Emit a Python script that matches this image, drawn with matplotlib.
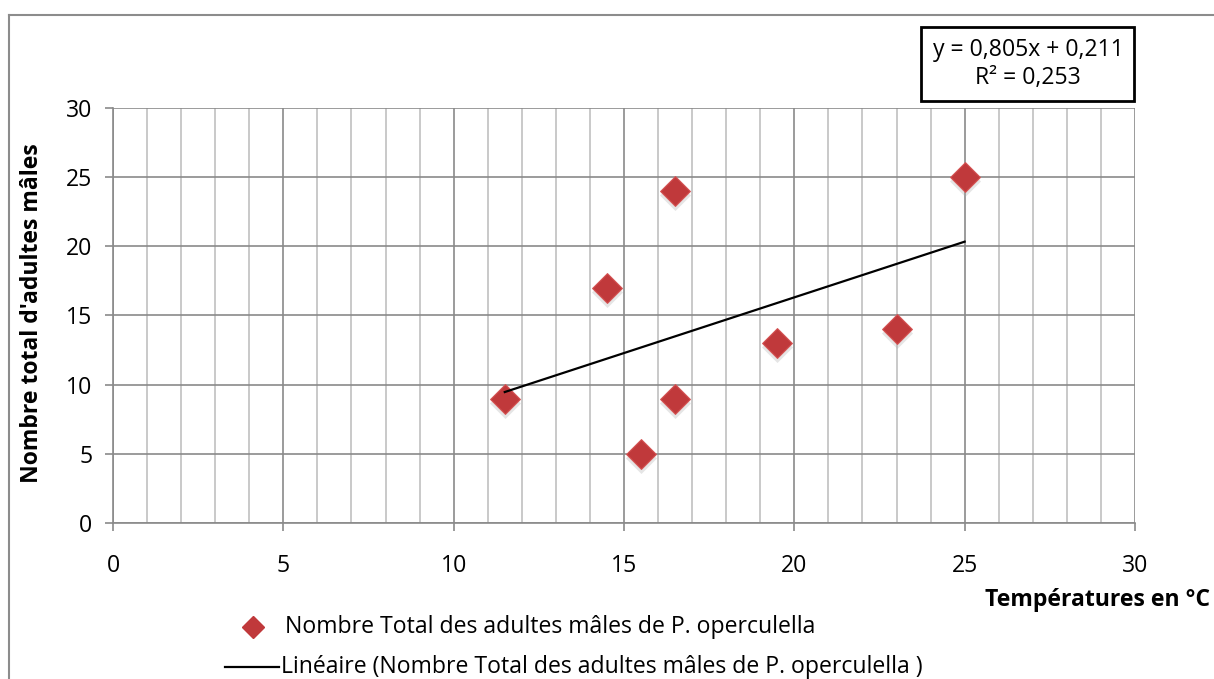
import matplotlib.pyplot as plt
import numpy as np
from matplotlib.lines import Line2D
from matplotlib.patches import Rectangle

plt.rcParams["font.family"] = ["Open Sans", "DejaVu Sans"]

# data
temperatures = [11.5, 14.5, 15.5, 16.5, 16.5, 19.5, 23, 25]
males = [9, 17, 5, 24, 9, 13, 14, 25]
slope = 0.805
intercept = 0.211
r2 = 0.253

series_name = "Nombre Total des adultes mâles de P. operculella"
trend_name = "Linéaire (Nombre Total des adultes mâles de P. operculella )"

FS = 16.6


def fr(v):
    # french decimal comma
    return f"{v:.3f}".replace(".", ",")


fig = plt.figure(figsize=(12.14, 6.79), dpi=100)
ax = fig.add_axes([0.0931, 0.2297, 0.8418, 0.6113])

# outer chart frame (cut at right/bottom like the original)
fig.add_artist(Line2D([9 / 1214, 9 / 1214], [0, 1 - 15 / 679], color="#8c8c8c", lw=1.5))
fig.add_artist(Line2D([9 / 1214, 1], [1 - 15 / 679, 1 - 15 / 679], color="#8c8c8c", lw=1.5))

ax.set_xlim(0, 30)
ax.set_ylim(0, 30)
ax.set_xticks(np.arange(0, 31, 5))
ax.set_yticks(np.arange(0, 31, 5))
ax.set_xticks(np.arange(0, 31, 1), minor=True)
ax.grid(True, which="major", color="#8a8a8a", lw=1.2)
ax.grid(True, which="minor", axis="x", color="#c0c0c0", lw=1.2)
ax.tick_params(which="minor", length=0)
ax.tick_params(which="major", length=6, color="#8a8a8a", width=1.2,
               labelsize=FS, pad=16)
ax.tick_params(axis="y", pad=9)
for s in ["top", "right"]:
    ax.spines[s].set_visible(False)
for s in ["left", "bottom"]:
    ax.spines[s].set_color("#8a8a8a")
    ax.spines[s].set_linewidth(1.2)
ax.set_axisbelow(True)

# points with a soft shadow
ax.scatter(temperatures, np.array(males) - 0.3, marker="D", s=250,
           color="#aaaaaa", alpha=0.3, lw=0, zorder=3)
ax.scatter(temperatures, males, marker="D", s=230, color="#c0393b",
           edgecolor="#d55454", lw=0.8, zorder=4)

# linear trend
xt = np.array([min(temperatures), max(temperatures)])
ax.plot(xt, slope * xt + intercept, color="black", lw=1.6, zorder=5)

# equation box
fig.text(1028 / 1214, 1 - 64 / 679,
         f"y = {fr(slope)}x + {fr(intercept)}\nR² = {fr(r2)}",
         ha="center", va="center", fontsize=FS, linespacing=1.2)
fig.add_artist(Rectangle((921 / 1214, 1 - 101 / 679), 213 / 1214, 74 / 679,
                         fill=False, ec="black", lw=2, transform=fig.transFigure))

fig.text(32 / 1214, 1 - 313 / 679, "Nombre total d'adultes mâles", rotation=90,
         ha="center", va="center", fontsize=FS, fontweight="bold")
fig.text(1210 / 1214, 1 - 600 / 679, "Températures en °C",
         ha="right", va="center", fontsize=FS, fontweight="bold")

# legend
fig.add_artist(Line2D([253 / 1214], [1 - 627 / 679], marker="D", ms=11,
                      color="#c0393b", transform=fig.transFigure))
fig.text(285 / 1214, 1 - 627 / 679, series_name, ha="left", va="center", fontsize=FS)
fig.add_artist(Line2D([225 / 1214, 279 / 1214], [1 - 667 / 679, 1 - 667 / 679],
                      color="black", lw=1.6))
fig.text(281 / 1214, 1 - 667 / 679, trend_name, ha="left", va="center", fontsize=FS)

fig.savefig("out.png", dpi=100)
